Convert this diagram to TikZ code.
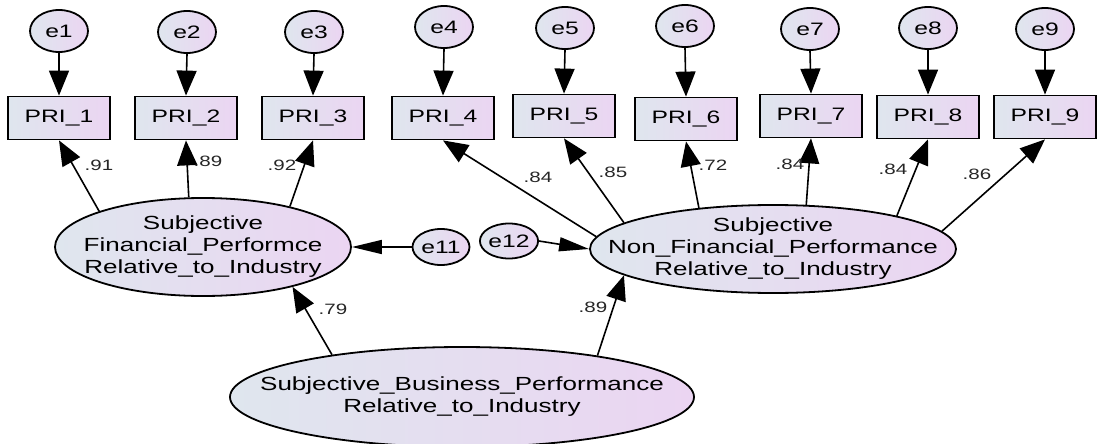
\documentclass[tikz,border=0pt]{standalone}
\usepackage{fontspec}
\setmainfont{Liberation Sans}[FakeStretch=1.37]
\usetikzlibrary{arrows.meta,shapes.geometric}
\definecolor{shadeL}{HTML}{DFE6EE}
\definecolor{shadeR}{HTML}{EBD5F2}
\begin{document}
\begin{tikzpicture}[x=1pt,y=-1pt,
  obs/.style={draw, line width=1.8pt, rectangle, minimum width=102pt, minimum height=43pt,
    inner sep=0pt, left color=shadeL, right color=shadeR, font=\fontsize{18}{21}\selectfont},
  err/.style={draw, line width=1.8pt, ellipse, minimum width=58pt, minimum height=42pt,
    inner sep=0pt, left color=shadeL, right color=shadeR, font=\fontsize{18}{21}\selectfont},
  lat/.style={draw, line width=1.8pt, ellipse, inner xsep=-60pt, inner ysep=-12pt,
    left color=shadeL, right color=shadeR, align=center, font=\fontsize{19}{22}\selectfont},
  load/.style={line width=1.6pt, -{Triangle[length=25pt,width=20pt]}},
  hload/.style={line width=1.6pt, -{Triangle[length=30pt,width=14pt]}},
  coef/.style={font=\fontsize{15}{17}\selectfont, text=black!85, inner sep=0pt},
]
\useasboundingbox (0,0) rectangle (1097,444);

% error terms of the indicators
\node[err] (e1) at (59,31) {e1};
\node[err] (e2) at (187,32) {e2};
\node[err] (e3) at (314,32) {e3};
\node[err] (e4) at (444,27) {e4};
\node[err] (e5) at (565,28) {e5};
\node[err] (e6) at (685,26) {e6};
\node[err] (e7) at (810,29) {e7};
\node[err] (e8) at (928,28) {e8};
\node[err] (e9) at (1045,29) {e9};

% observed indicators
\node[obs] (P1) at (59,118) {PRI\_1};
\node[obs] (P2) at (186,118) {PRI\_2};
\node[obs] (P3) at (313,118) {PRI\_3};
\node[obs] (P4) at (443,118) {PRI\_4};
\node[obs] (P5) at (564,116) {PRI\_5};
\node[obs] (P6) at (686,119) {PRI\_6};
\node[obs] (P7) at (811,116) {PRI\_7};
\node[obs] (P8) at (928,117) {PRI\_8};
\node[obs] (P9) at (1045,117) {PRI\_9};

% latent factors
\node[lat, minimum width=296pt, minimum height=98pt] (F) at (203,247)
  {Subjective\\Financial\_Performce\\Relative\_to\_Industry};
\node[lat, minimum width=366pt, minimum height=88pt] (N) at (773,249)
  {Subjective\\Non\_Financial\_Performance\\Relative\_to\_Industry};
\node[lat, minimum width=464pt, minimum height=100pt] (B) at (462,397)
  {Subjective\_Business\_Performance\\Relative\_to\_Industry};

% disturbances
\node[err, minimum width=57pt, minimum height=36pt] (e11) at (441,247) {e11};
\node[err, minimum width=55pt, minimum height=35pt] (e12) at (509,241) {e12};

% error paths
\foreach \i in {1,...,9} \draw[load] (e\i.south) -- (P\i.north);

% loadings
\draw[load] (F.161) -- (P1.south);
\draw[load] (F.106) -- (P2.south);
\draw[load] (F.25) -- (P3.south);
\draw[load] (N.176) -- (P4.south);
\draw[load] (N.170) -- (P5.south);
\draw[load] (N.151) -- (P6.south);
\draw[load] (N.53) -- (P7.south);
\draw[load] (N.15) -- (P8.south);
\draw[load] (N.6) -- (P9.south);
\draw[load] (B.162) -- (F.-24);
\draw[load] (B.17) -- (N.190);
\draw[hload] (e11.west) -- (F.east);
\draw[hload] (e12.east) -- (N.west);

% standardized estimates
\node[coef] (c1) at (99,165) {.91};
\node[coef] (c2) at (208,161) {.89};
\node[coef] (c3) at (282,165) {.92};
\node[coef] (c4) at (538,177) {.84};
\node[coef] (c5) at (613,172) {.85};
\node[coef] (c6) at (713,165) {.72};
\node[coef] (c7) at (790,164) {.84};
\node[coef] (c8) at (893,169) {.84};
\node[coef] (c9) at (977,174) {.86};
\node[coef] (c10) at (333,309) {.79};
\node[coef] (c11) at (593,307) {.89};
\end{tikzpicture}
\end{document}
